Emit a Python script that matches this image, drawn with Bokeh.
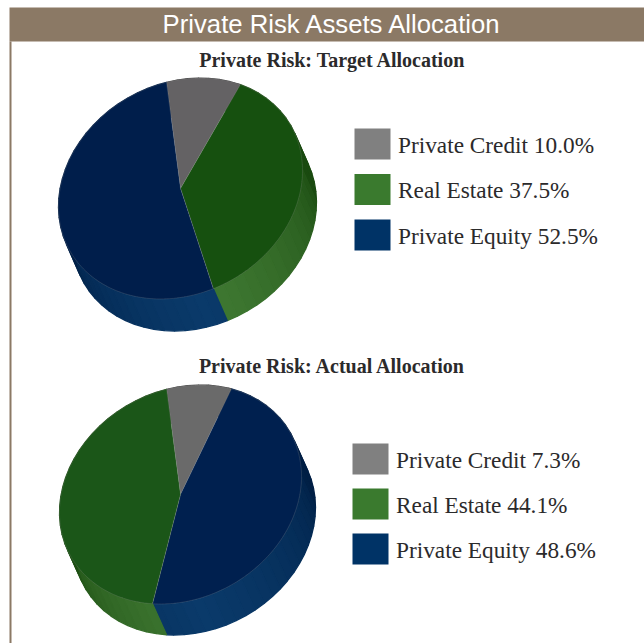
import numpy as np
from bokeh.plotting import figure
from bokeh.models import ColumnDataSource, Range1d
from bokeh.core.properties import value
from bokeh.embed import file_html
from bokeh.resources import INLINE

# ---- data ----
title = "Private Risk Assets Allocation"
target_title = "Private Risk: Target Allocation"
actual_title = "Private Risk: Actual Allocation"

target_labels = ["Private Credit 10.0%", "Real Estate 37.5%", "Private Equity 52.5%"]
actual_labels = ["Private Credit 7.3%", "Real Estate 44.1%", "Private Equity 48.6%"]

# shares as drawn, clockwise from the first slice edge
target_slices = ["Private Credit", "Real Estate", "Private Equity"]
target_shares = [10.0, 37.5, 52.5]
actual_slices = ["Private Credit", "Private Equity", "Real Estate"]
actual_shares = [8.75, 46.8, 44.45]

# ---- styles ----
FONT_SERIF = "Liberation Serif"
FONT_SANS = "Liberation Sans"
BROWN = "#8b7965"
TEXT = "#2b2a2b"
SWATCH = {"Private Credit": "#808080", "Real Estate": "#3a7a2e", "Private Equity": "#003366"}
TOP_T = {"Private Credit": "#646264", "Real Estate": "#16500f", "Private Equity": "#001e4b"}
TOP_A = {"Private Credit": "#6a6a6a", "Real Estate": "#1b5618", "Private Equity": "#00204f"}
RIM = {"Private Credit": ((0x40, 0x40, 0x40), (0x70, 0x70, 0x70)),
       "Real Estate": ((0x1a, 0x4a, 0x10), (0x40, 0x7a, 0x33)),
       "Private Equity": ((0x00, 0x1f, 0x45), (0x0a, 0x3a, 0x6a))}

W, H = 644, 643
p = figure(width=W, height=H, output_backend="svg", toolbar_location=None,
           x_range=Range1d(0, W), y_range=Range1d(H, 0), min_border=0)
p.axis.visible = False
p.grid.visible = False
p.outline_line_color = None
p.background_fill_color = "white"
p.border_fill_color = "white"


def ring(cx, cy, rx, ry, skew, t):
    t = np.radians(t)
    return cx + rx * np.sin(t), cy - skew * np.sin(t) - ry * np.cos(t)


def rim_colour(name, t):
    lo, hi = RIM[name]
    d = abs(((t - 172 + 180) % 360) - 180)
    f = np.clip(1 - d / 85, 0, 1) ** 0.6
    return "#%02x%02x%02x" % tuple(int(round(a + (b - a) * f)) for a, b in zip(lo, hi))


def pie(names, shares, tops, cx, cy, rx, ry, skew, off, start):
    edges = start + np.concatenate([[0], np.cumsum(shares)]) * 3.6
    xs, ys, cols = [], [], []
    for i, name in enumerate(names):
        a = edges[i]
        while a < edges[i + 1] - 1e-6:
            b = min(a + 5.0, edges[i + 1])
            x0, y0 = ring(cx, cy, rx, ry, skew, a)
            x1, y1 = ring(cx, cy, rx, ry, skew, b)
            xs.append([x0, x1, x1 + off[0], x0 + off[0]])
            ys.append([y0, y1, y1 + off[1], y0 + off[1]])
            cols.append(rim_colour(name, (a + b) / 2))
            a = b
    p.patches(xs="xs", ys="ys", fill_color="cols", line_color="cols", line_width=1.3,
              source=ColumnDataSource(dict(xs=xs, ys=ys, cols=cols)))
    xs, ys, cols = [], [], []
    for i, name in enumerate(names):
        t = np.linspace(edges[i], edges[i + 1], 120)
        x, y = ring(cx, cy, rx, ry, skew, t)
        xs.append(np.r_[cx, x].tolist())
        ys.append(np.r_[cy, y].tolist())
        cols.append(tops[name])
    p.patches(xs="xs", ys="ys", fill_color="cols", line_color="#9a9a9a", line_alpha=0.3,
              line_width=0.7, source=ColumnDataSource(dict(xs=xs, ys=ys, cols=cols)))


def legend(labels, x, ys):
    for lab, y in zip(labels, ys):
        name = lab.rsplit(" ", 1)[0]
        p.quad(left=x, right=x + 36, top=y - 15.5, bottom=y + 15.5, fill_color=SWATCH[name], line_color=None)
    p.text(x=[x + 43.5] * 3, y=[v + 0.5 for v in ys], text=labels, text_font=value(FONT_SERIF),
           text_font_size="23.3px", text_color=TEXT, text_align="left", text_baseline="middle")


# frame
p.quad(left=9, right=W, top=7, bottom=41, fill_color=BROWN, line_color=None)
p.quad(left=9, right=11, top=41, bottom=H, fill_color=BROWN, line_color=None)
p.text(x=[332], y=[23.5], text=[title], text_font=value(FONT_SANS), text_font_size="25.7px",
       text_color="white", text_align="center", text_baseline="middle")
p.text(x=[332, 332], y=[59, 365], text=[target_title, actual_title], text_font=value(FONT_SERIF),
       text_font_size="20px", text_font_style="bold", text_color=TEXT, text_align="center",
       text_baseline="middle")

pie(target_slices, target_shares, TOP_T, 180, 188, 122, 109, 18, (14, 32), -6.6)
pie(actual_slices, actual_shares, TOP_A, 180, 494, 121, 108, 18, (14, 31), -6.6)

legend(target_labels, 354, [143.5, 189, 234.5])
legend(actual_labels, 352, [458.5, 503.5, 548.5])

open("out.html", "w").write(file_html(p, INLINE))
